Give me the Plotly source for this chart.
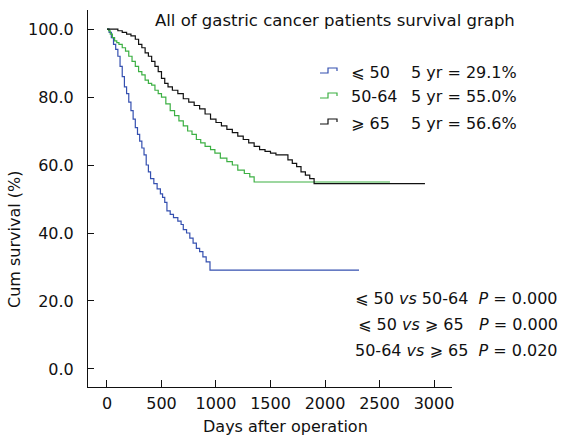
import plotly.graph_objects as go

# ---- data ----
days_le50 = [0, 20, 40, 60, 80, 100, 120, 140, 160, 180, 200, 220, 240, 260, 280, 300,
             320, 340, 360, 380, 400, 430, 460, 490, 510, 530, 550, 580, 610, 650, 680,
             700, 730, 760, 790, 820, 850, 880, 910, 945, 2312]
surv_le50 = [100, 99, 97.5, 95.5, 94, 92, 89, 86, 83, 81, 78.5, 76, 73.5, 71, 69, 67,
             65, 63, 60, 58, 56, 54.5, 53, 51.5, 50.5, 49, 46.5, 45.5, 44.5, 43.5, 42.5,
             41, 40, 38.5, 37, 35.5, 34.5, 33, 31.5, 29.1, 29.1]

days_50_64 = [0, 15, 30, 50, 70, 90, 110, 140, 170, 200, 230, 260, 290, 320, 350, 380,
              410, 440, 470, 500, 540, 580, 620, 660, 700, 740, 780, 820, 860, 900, 950,
              990, 1040, 1100, 1150, 1200, 1260, 1310, 1350, 2596]
surv_50_64 = [100, 99.5, 98.5, 97.5, 96.5, 96, 95.5, 94.5, 93.5, 92, 90.5, 89, 87.5, 86.5,
              85, 84, 83.5, 82, 81, 80, 78, 76, 74.5, 73, 71.5, 70, 69, 67.5, 66.5, 65.5,
              64.5, 63.5, 62, 61, 60, 58.5, 57.5, 56.5, 55.0, 55.0]

days_ge65 = [0, 70, 100, 140, 180, 220, 260, 290, 320, 350, 380, 410, 440, 470, 500, 530,
             560, 600, 650, 700, 750, 800, 850, 900, 950, 1000, 1050, 1100, 1150, 1200,
             1250, 1300, 1350, 1400, 1450, 1500, 1550, 1620, 1660, 1700, 1740, 1780, 1820,
             1860, 1900, 2917]
surv_ge65 = [100, 100, 99.5, 99, 98.5, 98, 97, 95.5, 94.5, 93, 92, 90.5, 89, 87.5, 85.5, 84,
             83, 82, 81, 79.5, 78.5, 77.5, 76.5, 75, 73.5, 72.5, 71.5, 70.5, 69.5, 68.5,
             67.5, 66.5, 65.5, 64.5, 64, 63.5, 63, 63, 61.5, 60.5, 59.5, 58, 57, 56, 54.5, 54.5]

legend_labels = ["⩽ 50", "50-64", "⩾ 65"]
five_year = ["29.1%", "55.0%", "56.6%"]
comparisons = ["⩽ 50 <i>vs</i> 50-64  <i>P</i> = 0.000",
               "⩽ 50 <i>vs</i> ⩾ 65   <i>P</i> = 0.000",
               "50-64 <i>vs</i> ⩾ 65  <i>P</i> = 0.020"]
x_ticks = [0, 500, 1000, 1500, 2000, 2500, 3000]
y_ticks = [0, 20, 40, 60, 80, 100]

colors = ["#3550b0", "#3cb043", "#111111"]
FONT = "DejaVu Sans"
FS = 16

W, H = 563, 441
ML, MR, MT, MB = 88, 111, 10, 54
PW, PH = W - ML - MR, H - MT - MB

def px(x):
    return (x - ML) / PW

def py(y):
    return (H - MB - y) / PH

fig = go.Figure()
for d, s, c, name in zip([days_le50, days_50_64, days_ge65],
                         [surv_le50, surv_50_64, surv_ge65], colors, legend_labels):
    fig.add_trace(go.Scatter(x=d, y=s, mode="lines", line=dict(color=c, width=1.2, shape="hv"),
                             name=name, showlegend=False))

annotations = []
shapes = []
# title
annotations.append(dict(text="All of gastric cancer patients survival graph", x=px(335), y=py(21),
                        xref="paper", yref="paper", showarrow=False, xanchor="center", yanchor="middle",
                        font=dict(family=FONT, size=16.5, color="#111")))
# legend
row_y = [72, 97, 123]
for i in range(3):
    yy = row_y[i]
    path = (f"M {px(320)} {py(yy+1)} L {px(328)} {py(yy+1)} L {px(328)} {py(yy-4)} "
            f"L {px(337)} {py(yy-4)} L {px(337)} {py(yy-1)}")
    shapes.append(dict(type="path", path=path, xref="paper", yref="paper",
                       line=dict(color=colors[i], width=1.2)))
    annotations.append(dict(text=legend_labels[i], x=px(349), y=py(yy), xref="paper", yref="paper",
                            showarrow=False, xanchor="left", yanchor="middle",
                            font=dict(family=FONT, size=FS, color="#111")))
    annotations.append(dict(text="5 yr = " + five_year[i], x=px(409), y=py(yy), xref="paper", yref="paper",
                            showarrow=False, xanchor="left", yanchor="middle",
                            font=dict(family=FONT, size=FS, color="#111")))
# comparisons
comp_y = [298, 324, 350]
for t, yy in zip(comparisons, comp_y):
    annotations.append(dict(text=t, x=px(560), y=py(yy), xref="paper", yref="paper",
                            showarrow=False, xanchor="right", yanchor="middle",
                            font=dict(family=FONT, size=FS, color="#111")))
# axis titles
annotations.append(dict(text="Cum survival (%)", x=px(15), y=py(240), xref="paper", yref="paper",
                        showarrow=False, textangle=-90, xanchor="center", yanchor="middle",
                        font=dict(family=FONT, size=FS, color="#111")))
annotations.append(dict(text="Days after operation", x=px(285), y=py(426), xref="paper", yref="paper",
                        showarrow=False, xanchor="center", yanchor="middle",
                        font=dict(family=FONT, size=FS, color="#111")))

fig.update_layout(
    width=W, height=H,
    margin=dict(l=ML, r=MR, t=MT, b=MB),
    paper_bgcolor="white", plot_bgcolor="white",
    font=dict(family=FONT, size=FS, color="#111"),
    annotations=annotations, shapes=shapes,
    showlegend=False,
)
fig.update_xaxes(range=[-174, 3165], tickvals=x_ticks, ticktext=[str(v) for v in x_ticks],
                 showgrid=False, zeroline=False, showline=True, linecolor="#111", linewidth=1,
                 ticks="inside", ticklen=7, tickcolor="#111", ticklabelstandoff=2)
fig.update_yaxes(range=[-5.3, 105.6], tickvals=y_ticks, ticktext=[f"{v:.1f}" for v in y_ticks],
                 showgrid=False, zeroline=False, showline=True, linecolor="#111", linewidth=1,
                 ticks="inside", ticklen=6, tickcolor="#111", ticklabelstandoff=10)

fig.write_html("out.html")
